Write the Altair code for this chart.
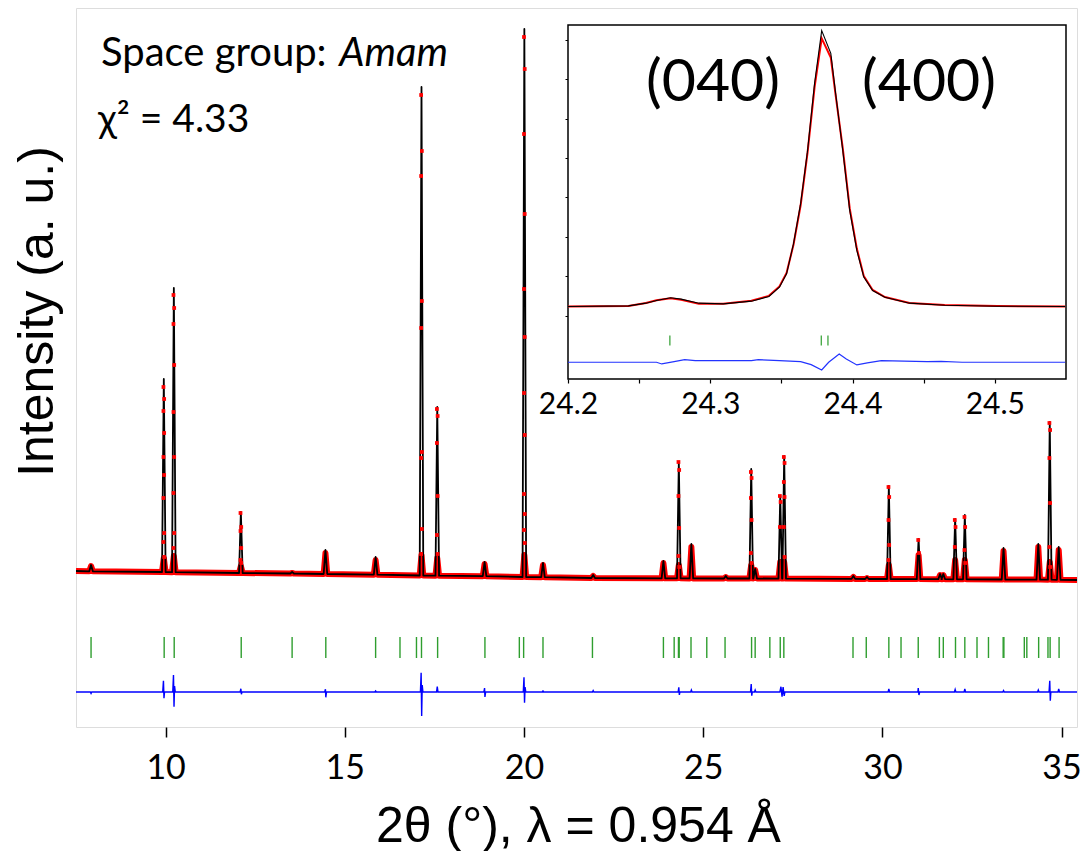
import altair as alt
import pandas as pd

# ---------------- main pattern: peaks ----------------
start_theta, start_int = 7.5, 9.0
end_theta, end_int = 35.43, 0.0
peak_theta = [7.92, 9.95, 10.23, 12.10, 13.53, 14.46, 15.86, 17.14, 17.58, 18.90, 20.01, 20.53, 21.93,
              23.89, 24.32, 24.67, 25.63, 26.34, 26.45, 27.15, 27.26, 29.19, 29.57, 30.18, 31.01, 31.61,
              31.70, 32.03, 32.30, 33.38, 34.35, 34.67, 34.92]
peak_base = [8.7, 8.0, 7.8, 7.0, 6.5, 6.0, 5.3, 4.5, 4.3, 3.8, 3.0, 2.8, 2.0,
             1.7, 1.7, 1.6, 1.5, 1.5, 1.5, 1.4, 1.4, 1.1, 1.0, 1.0, 0.9, 0.8,
             0.8, 0.7, 0.7, 0.5, 0.4, 0.3, 0.2]
peak_calc = [15, 201, 292, 68, 8, 30, 23, 493, 173, 18, 551, 17, 5,
             19, 118, 36, 4, 111, 11, 84, 124, 4, 3, 94, 41, 6,
             6, 61, 65, 32, 36, 158, 33]
peak_obs_band = [14, 22, 24, 14, 7, 27, 20, 25, 22, 16, 25, 15, 4,
                 17, 15, 33, 3, 15, 10, 18, 18, 3, 2, 15, 25, 5,
                 5, 20, 20, 29, 33, 18, 30]
PEAK_HALF_WIDTH = 0.05

# observed points on the flanks of the strong reflections
dot_theta = [9.94, 9.96, 9.94, 9.96, 9.94, 9.96, 9.94, 9.96, 9.94, 9.96,
             10.22, 10.24, 10.22, 10.24, 10.22, 10.24, 10.22, 10.24, 10.22,
             12.09, 12.11, 12.09, 12.11, 12.09, 12.11,
             17.13, 17.15, 17.13, 17.15, 17.13, 17.15, 17.13, 17.15, 17.13,
             17.57, 17.59, 17.57, 17.59, 17.57, 17.59,
             20.00, 20.02, 20.00, 20.02, 20.00, 20.02, 20.00, 20.02, 20.00, 20.02, 20.00, 20.02,
             24.31, 24.33, 24.31, 24.33, 24.31, 24.33,
             26.33, 26.35, 26.33, 26.35, 26.33, 26.35,
             27.14, 27.16, 27.14,
             27.25, 27.27, 27.25, 27.27, 27.25, 27.27,
             30.17, 30.19, 30.17, 30.19, 30.17,
             31.00, 31.02,
             32.02, 32.04, 32.02,
             32.29, 32.31, 32.29, 32.31,
             34.66, 34.68, 34.66, 34.68, 34.66, 34.68]
dot_int = [193, 181, 169, 147, 123, 105, 82, 47, 38, 23,
           285, 272, 256, 215, 168, 123, 87, 47, 32,
           67, 53, 49, 32, 20, 17,
           485, 429, 404, 279, 252, 128, 122, 51, 26,
           171, 164, 137, 84, 45, 26,
           543, 511, 446, 366, 291, 243, 187, 145, 86, 66, 50, 37,
           118, 110, 84, 52, 24, 13,
           108, 102, 82, 60, 27, 17,
           84, 78, 53,
           123, 117, 98, 83, 53, 23,
           93, 83, 60, 35, 20,
           40, 27,
           60, 53, 33,
           63, 53, 30, 17,
           157, 150, 122, 77, 33, 13]

bragg_theta = [7.92, 9.96, 10.24, 12.11, 13.53, 14.47, 15.86, 16.54, 17.00, 17.14, 17.59, 18.91, 19.87,
               19.99, 20.53, 21.91, 23.89, 24.19, 24.31, 24.33, 24.66, 25.10, 25.61, 26.35, 26.45, 26.86,
               27.15, 27.25, 29.18, 29.55, 30.18, 30.52, 31.00, 31.59, 31.70, 32.04, 32.30, 32.64, 32.96,
               33.37, 33.39, 33.96, 34.03, 34.36, 34.62, 34.68, 34.93]
BRAGG_TOP, BRAGG_BOTTOM = -57, -78

diff_theta = [7.5, 7.90, 7.92, 7.94,
              9.92, 9.94, 9.955, 9.97,
              10.20, 10.22, 10.235, 10.25, 10.27,
              12.08, 12.10, 12.115, 12.13,
              14.44, 14.46, 14.47, 14.49,
              15.84, 15.86, 15.88,
              17.11, 17.13, 17.145, 17.16, 17.18,
              17.56, 17.58, 17.60,
              18.88, 18.90, 18.91, 18.93,
              19.98, 20.00, 20.015, 20.03, 20.05,
              20.51, 20.53, 20.55,
              21.91, 21.93, 21.95,
              24.30, 24.32, 24.335, 24.35,
              24.65, 24.67, 24.69,
              26.32, 26.34, 26.355, 26.37,
              26.43, 26.45, 26.47,
              27.14, 27.17, 27.20, 27.23, 27.26, 27.28,
              30.16, 30.18, 30.20,
              30.99, 31.00, 31.02, 31.04,
              32.01, 32.03, 32.05,
              32.28, 32.30, 32.32,
              33.36, 33.38, 33.40,
              34.33, 34.35, 34.37,
              34.65, 34.67, 34.685, 34.70,
              34.90, 34.92, 34.94,
              35.43]
diff_int = [-112, -112, -113.5, -112,
            -112, -100.7, -118.3, -112,
            -112, -95, -126.7, -106, -112,
            -112, -108.7, -114.3, -112,
            -112, -109.3, -117.3, -112,
            -112, -111, -112,
            -112, -92.7, -136, -105, -112,
            -112, -106.7, -112,
            -112, -108, -117, -112,
            -112, -97.3, -122.7, -107, -112,
            -112, -111, -112,
            -112, -110.5, -112,
            -112, -107.3, -115, -112,
            -112, -110, -112,
            -112, -104, -115.7, -112,
            -112, -110, -112,
            -112, -106.7, -116.7, -107, -116, -112,
            -112, -109, -112,
            -112, -108, -115, -112,
            -112, -109.5, -112,
            -112, -109, -112,
            -112, -110.5, -112,
            -112, -110, -112,
            -112, -100.7, -120.7, -112,
            -112, -109, -112,
            -112]

# ---------------- inset (040)/(400) ----------------
in_theta = [24.2, 24.2425, 24.2548, 24.2622, 24.2721, 24.2795, 24.2919, 24.3091, 24.3289, 24.3412,
            24.3486, 24.3536, 24.3585, 24.3635, 24.3684, 24.3733, 24.3783, 24.3847, 24.3881, 24.3931,
            24.398, 24.403, 24.4079, 24.4141, 24.4227, 24.44, 24.4647, 24.5017, 24.5494]
in_calc = [229, 246, 314, 382, 450, 416, 314, 297, 365, 483,
           721, 1060, 1824, 2841, 4198, 5895, 7235, 6658, 5640, 4198,
           2672, 1654, 975, 636, 466, 314, 263, 237, 229]
in_obs = [229, 240, 320, 390, 440, 400, 300, 300, 375, 500,
          740, 1080, 1800, 2800, 4150, 5800, 7040, 6550, 5600, 4250,
          2720, 1700, 1000, 650, 470, 320, 265, 240, 229]
in_bragg = [24.2716, 24.378, 24.3827]
IN_BRAGG_TOP, IN_BRAGG_BOTTOM = -509, -763
in_diff_theta = [24.2, 24.2622, 24.2659, 24.2746, 24.282, 24.2894, 24.3289, 24.3338, 24.3486, 24.3635,
                 24.3709, 24.3783, 24.3832, 24.3906, 24.3956, 24.403, 24.4104, 24.4202, 24.4523,
                 24.4622, 24.4770, 24.5494]
in_diff = [-1187, -1187, -1230, -1170, -1120, -1145, -1145, -1120, -1145, -1170,
           -1247, -1383, -1187, -975, -1103, -1255, -1204, -1145, -1170,
           -1162, -1187, -1187]
in_labels = ["(040)", "(400)"]

# ---------------- tables ----------------
calc_rows = [(start_theta, start_int)]
band_rows = [(start_theta, start_int)]
for p, b, c, o in zip(peak_theta, peak_base, peak_calc, peak_obs_band):
    calc_rows += [(p - PEAK_HALF_WIDTH, b), (p, c), (p + PEAK_HALF_WIDTH, b)]
    band_rows += [(p - PEAK_HALF_WIDTH, b), (p, o), (p + PEAK_HALF_WIDTH, b)]
calc_rows.append((end_theta, end_int))
band_rows.append((end_theta, end_int))
calc_df = pd.DataFrame(calc_rows, columns=["x", "y"]).reset_index().rename(columns={"index": "o"})
band_df = pd.DataFrame(band_rows, columns=["x", "y"]).reset_index().rename(columns={"index": "o"})
dot_df = pd.DataFrame({"x": dot_theta, "y": dot_int})
bragg_df = pd.DataFrame({"x": bragg_theta})
diff_df = pd.DataFrame({"x": diff_theta, "y": diff_int}).reset_index().rename(columns={"index": "o"})

in_df = pd.DataFrame({"x": in_theta, "calc": in_calc, "obs": in_obs}).reset_index().rename(columns={"index": "o"})
in_bragg_df = pd.DataFrame({"x": in_bragg})
in_diff_df = pd.DataFrame({"x": in_diff_theta, "y": in_diff}).reset_index().rename(columns={"index": "o"})

# ---------------- main scales / axes ----------------
W, H = 1001, 719
xs = alt.Scale(domain=[7.5, 35.43], nice=False, zero=False)
ys = alt.Scale(domain=[-147, 572], nice=False, zero=False)

x_axis = alt.Axis(values=[10, 15, 20, 25, 30, 35], tickSize=10, tickWidth=1.5, tickColor="black",
                  labelFont="Lato", labelFontSize=34, labelColor="black", labelPadding=41,
                  labelBaseline="alphabetic", labelFlush=False, labelBound=False,
                  domain=False, grid=False,
                  title="2θ (°), λ = 0.954 Å", titleFont="Liberation Sans", titleFontSize=50,
                  titleFontWeight="normal", titleColor="black", titleX=502, titleY=114,
                  titleAlign="center", titleBaseline="alphabetic")
y_axis = alt.Axis(labels=False, ticks=False, domain=False, grid=False,
                  title="Intensity (a. u.)", titleFont="Liberation Sans", titleFontSize=50,
                  titleFontWeight="normal", titleColor="black", titleAngle=270,
                  titleX=-24, titleY=303, titleAlign="center", titleBaseline="alphabetic")

band = alt.Chart(band_df).mark_line(color="#ff0000", strokeWidth=6, strokeJoin="round").encode(
    x=alt.X("x:Q", scale=xs, axis=x_axis), y=alt.Y("y:Q", scale=ys, axis=y_axis), order="o:Q")
calc = alt.Chart(calc_df).mark_line(color="black", strokeWidth=1.8, strokeJoin="round").encode(
    x=alt.X("x:Q", scale=xs), y=alt.Y("y:Q", scale=ys), order="o:Q")
dots = alt.Chart(dot_df).mark_square(color="#ff0000", size=14, opacity=1).encode(
    x=alt.X("x:Q", scale=xs), y=alt.Y("y:Q", scale=ys))
bragg = alt.Chart(bragg_df).mark_rule(color="#2f9e2f", strokeWidth=1.4).encode(
    x=alt.X("x:Q", scale=xs), y=alt.datum(BRAGG_TOP), y2=alt.datum(BRAGG_BOTTOM))
diff = alt.Chart(diff_df).mark_line(color="#0000ff", strokeWidth=1.4).encode(
    x=alt.X("x:Q", scale=xs), y=alt.Y("y:Q", scale=ys), order="o:Q")

txt_df = pd.DataFrame({"t": [0]})
t_sg = alt.Chart(txt_df).mark_text(text="Space group:", font="Lato", fontSize=40, align="left",
                                   baseline="alphabetic", color="black").encode(
    x=alt.value(25), y=alt.value(58))
t_am = alt.Chart(txt_df).mark_text(text="Amam", font="Lato", fontSize=40, fontStyle="italic",
                                   align="right", baseline="alphabetic", color="black").encode(
    x=alt.value(372), y=alt.value(58))
t_chi = alt.Chart(txt_df).mark_text(text="χ² = 4.33", font="Lato, Noto Sans", fontSize=39, align="left",
                                    baseline="alphabetic", color="black").encode(
    x=alt.value(22), y=alt.value(124))

main = alt.layer(band, calc, dots, bragg, diff, t_sg, t_am, t_chi)

# ---------------- inset scales / axes ----------------
ixs = alt.Scale(domain=[24.2, 24.55], range=[492, 990], nice=False, zero=False)
iys = alt.Scale(domain=[-1612, 7379], range=[371, 17], nice=False, zero=False)
ix_axis = alt.Axis(orient="bottom", offset=-348, values=[24.2, 24.25, 24.3, 24.35, 24.4, 24.45, 24.5],
                   labelExpr="abs(datum.value*10 - round(datum.value*10)) < 0.001 ? format(datum.value, '.1f') : ''",
                   tickSize=4, tickColor="black", tickWidth=1.2, labelFont="Lato", labelFontSize=30,
                   labelColor="black", labelPadding=30, labelBaseline="alphabetic",
                   labelFlush=False, labelBound=False, labelOverlap=False,
                   domain=False, grid=False, title=None)
iy_axis = alt.Axis(orient="left", offset=-492, values=[0, 1000, 2000, 3000, 4000, 5000, 6000, 7000],
                   tickSize=3, tickColor="black", labels=False, domain=False, grid=False, title=None)

frame = alt.Chart(txt_df).mark_rect(fill="white", stroke="black", strokeWidth=1.5).encode(
    x=alt.datum(24.2), x2=alt.datum(24.55), y=alt.datum(-1612), y2=alt.datum(7379))
in_obs_l = alt.Chart(in_df).mark_line(color="#ff0000", strokeWidth=2).encode(
    x=alt.X("x:Q", scale=ixs, axis=ix_axis), y=alt.Y("obs:Q", scale=iys, axis=iy_axis), order="o:Q")
in_calc_l = alt.Chart(in_df).mark_line(color="black", strokeWidth=1.1).encode(
    x=alt.X("x:Q", scale=ixs), y=alt.Y("calc:Q", scale=iys), order="o:Q")
in_bragg_r = alt.Chart(in_bragg_df).mark_rule(color="#2f9e2f", strokeWidth=1.2).encode(
    x=alt.X("x:Q", scale=ixs), y=alt.datum(IN_BRAGG_TOP), y2=alt.datum(IN_BRAGG_BOTTOM))
in_diff_l = alt.Chart(in_diff_df).mark_line(color="#2233ff", strokeWidth=1.2).encode(
    x=alt.X("x:Q", scale=ixs), y=alt.Y("y:Q", scale=iys), order="o:Q")
t_040 = alt.Chart(txt_df).mark_text(text=in_labels[0], font="Lato", fontSize=59, align="center",
                                    baseline="alphabetic", color="black").encode(
    x=alt.value(637), y=alt.value(93))
t_400 = alt.Chart(txt_df).mark_text(text=in_labels[1], font="Lato", fontSize=59, align="center",
                                    baseline="alphabetic", color="black").encode(
    x=alt.value(853), y=alt.value(93))

inset = alt.layer(frame, in_obs_l, in_calc_l, in_bragg_r, in_diff_l, t_040, t_400)

chart = alt.layer(main, inset).resolve_scale(x="independent", y="independent").properties(
    width=W, height=H, autosize=alt.AutoSizeParams(type="none"),
    padding={"left": 68, "top": 0, "right": 6, "bottom": 124}
).configure_view(stroke="black", strokeWidth=1.5).configure(background="white")

chart.save("out.html", embed_options={"renderer": "svg", "actions": False})
